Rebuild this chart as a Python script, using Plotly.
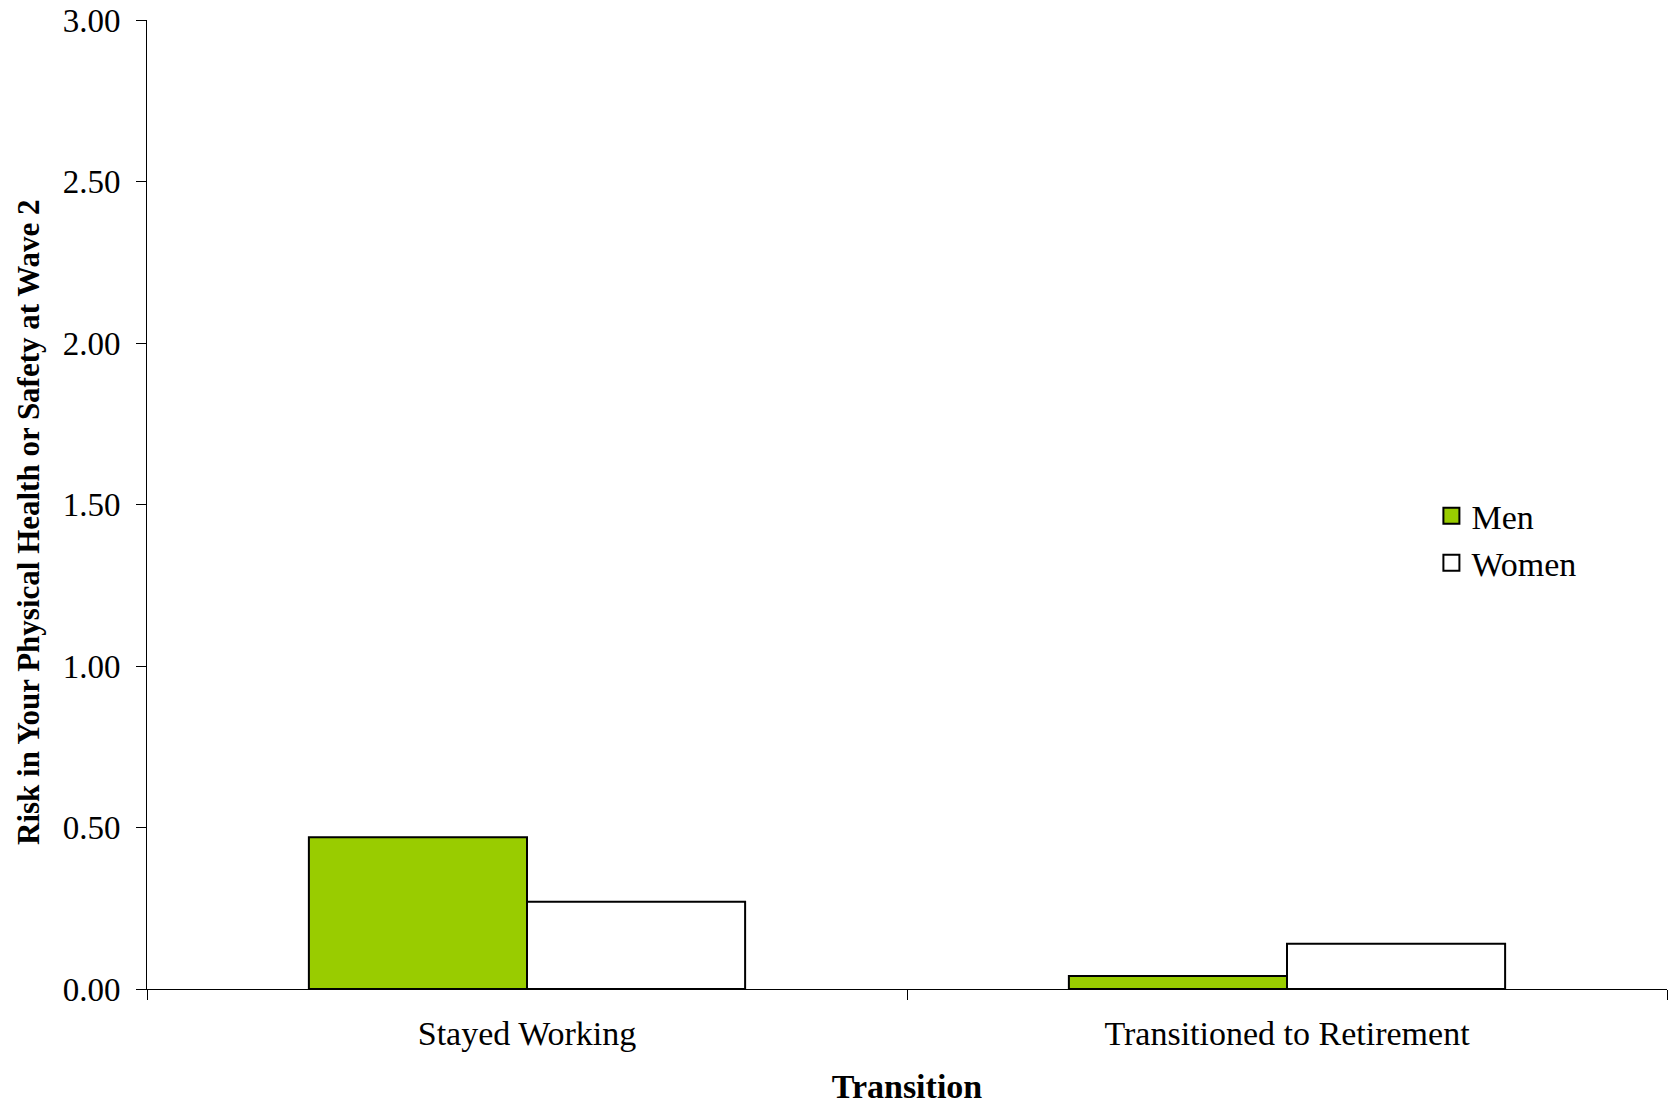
import plotly.graph_objects as go

# Mean reported risk to physical health or safety at wave 2, by transition group
categories = ["Stayed Working", "Transitioned to Retirement"]
men_values = [0.47, 0.04]
women_values = [0.27, 0.14]
y_ticks = [0.0, 0.5, 1.0, 1.5, 2.0, 2.5, 3.0]
y_title = "Risk in Your Physical Health or Safety at Wave 2"

FONT = "Liberation Serif, Times New Roman, serif"
GREEN = "#99cc00"

fig = go.Figure()
fig.add_trace(go.Bar(name="Men", x=categories, y=men_values,
                     marker=dict(color=GREEN, line=dict(color="black", width=2)),
                     showlegend=False))
fig.add_trace(go.Bar(name="Women", x=categories, y=women_values,
                     marker=dict(color="white", line=dict(color="black", width=2)),
                     showlegend=False))

# legend entries with larger square swatches
fig.add_trace(go.Scatter(name="Men", x=[None], y=[None], mode="markers",
                         marker=dict(symbol="square", size=16, color=GREEN,
                                     line=dict(color="black", width=2))))
fig.add_trace(go.Scatter(name="Women", x=[None], y=[None], mode="markers",
                         marker=dict(symbol="square", size=16, color="white",
                                     line=dict(color="black", width=2))))

fig.update_layout(
    width=1671, height=1105,
    margin=dict(l=147, r=4, t=20, b=116),
    paper_bgcolor="white", plot_bgcolor="white",
    font=dict(family=FONT, size=33, color="black"),
    barmode="group", bargap=0.426, bargroupgap=0,
    legend=dict(x=0.845, y=0.518, xanchor="left", yanchor="top",
                bgcolor="rgba(0,0,0,0)", font=dict(size=34),
                itemsizing="trace"),
)
fig.update_xaxes(
    type="category", showline=True, linecolor="black", linewidth=1,
    ticks="outside", ticklen=10, tickcolor="black", tickson="boundaries",
    tickfont=dict(size=34),
    ticklabelstandoff=14, showgrid=False, zeroline=False,
    title=dict(text="<b>Transition</b>", font=dict(size=34), standoff=30),
    automargin=False,
)
fig.update_yaxes(
    range=[0, 3], tickvals=y_ticks, tickformat=".2f",
    showline=True, linecolor="black", linewidth=1,
    ticks="outside", ticklen=10, tickcolor="black",
    ticklabelstandoff=9, showgrid=False, zeroline=False,
    automargin=False,
)

# vertical axis title, set slightly below the plot's vertical centre
fig.add_annotation(
    text=f"<b>{y_title}</b>", textangle=-90, showarrow=False,
    xref="paper", yref="paper", x=-0.0776, y=0.482,
    xanchor="center", yanchor="middle", font=dict(size=31),
)

fig.write_html("out.html")
